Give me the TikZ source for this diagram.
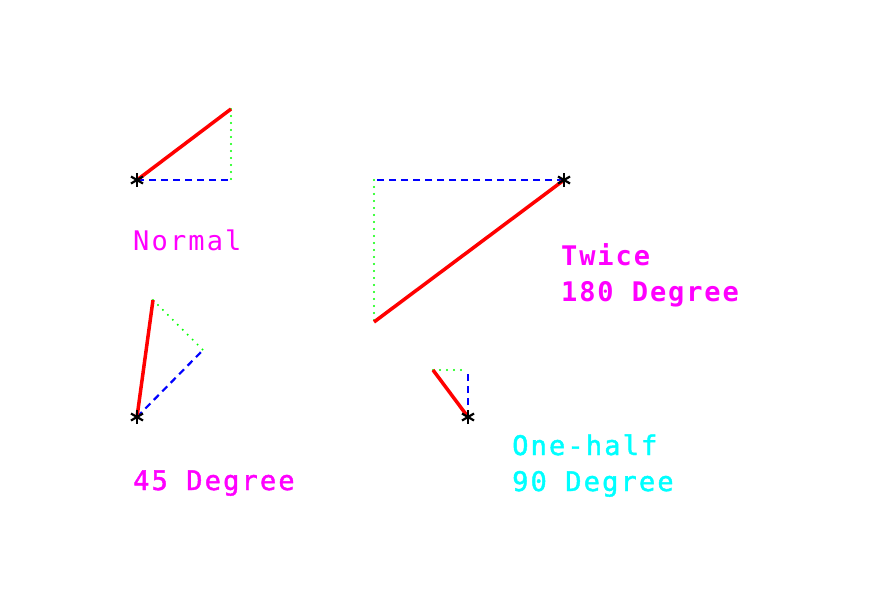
\documentclass[tikz,border=0pt]{standalone}
\usepackage{fontspec}
\newfontfamily\lblthin[LetterSpace=8]{DejaVu Sans Mono}
\newfontfamily\lblfont[LetterSpace=8,FakeBold=1.6]{DejaVu Sans Mono}
\newfontfamily\lblbold[LetterSpace=7]{DejaVu Sans Mono Bold}
\definecolor{pmag}{RGB}{255,0,255}
\definecolor{pcyan}{RGB}{0,255,255}
\definecolor{pgreen}{RGB}{0,255,0}
\tikzset{
  vec/.style={draw=red, line width=3.5pt},
  xleg/.style={draw=blue, line width=2.2pt, dash pattern=on 7pt off 5pt},
  yleg/.style={draw=pgreen, line width=2.2pt, line cap=round, dash pattern=on 0pt off 7pt},
  lblt/.style={anchor=base west, inner sep=0pt, font=\fontsize{27}{36}\lblthin},
  lbl/.style={anchor=base west, inner sep=0pt, font=\fontsize{27}{36}\lblfont},
  lblb/.style={anchor=base west, inner sep=0pt, font=\fontsize{27}{36}\lblbold},
  astk/.style={draw=black, line width=2.2pt}
}
\newcommand{\asterisk}[1]{%
  \draw[astk] ([yshift=-7pt]#1) -- ([yshift=7pt]#1);
  \draw[astk] ([shift={(-6pt,-3.5pt)}]#1) -- ([shift={(6pt,3.5pt)}]#1);
  \draw[astk] ([shift={(-6pt,3.5pt)}]#1) -- ([shift={(6pt,-3.5pt)}]#1);
}
\begin{document}
\begin{tikzpicture}[x=1pt,y=-1pt]
\useasboundingbox[fill=white] (0,0) rectangle (885,600);
% Normal
\coordinate (n0) at (137,180);
\coordinate (n1) at (231,109);
\coordinate (nc) at (231,180);
\draw[xleg] (n0) -- (nc);
\draw[yleg] (n1) -- (nc);
\draw[vec] (n0) -- (n1);
\asterisk{n0}
\node[lblt, text=pmag] (tn) at (133,250) {Normal};
% Twice
\coordinate (t0) at (564,180);
\coordinate (t1) at (374,322);
\coordinate (tc) at (374,180);
\draw[xleg] (t0) -- (tc);
\draw[yleg] (tc) -- (t1);
\draw[vec] (t0) -- (t1);
\asterisk{t0}
\node[lblb, text=pmag] (tt1) at (561,265) {Twice};
\node[lblb, text=pmag] (tt2) at (561,301) {180 Degree};
% 45 Degree
\coordinate (f0) at (137,417);
\coordinate (f1) at (153,300);
\coordinate (fc) at (203,350);
\draw[xleg] (f0) -- (fc);
\draw[yleg] (f1) -- (fc);
\draw[vec] (f0) -- (f1);
\asterisk{f0}
\node[lbl, text=pmag] (tf) at (133,490) {45 Degree};
% One-half
\coordinate (h0) at (468,417);
\coordinate (h1) at (433,370);
\coordinate (hc) at (468,370);
\draw[xleg] (h0) -- (hc);
\draw[yleg] (h1) -- (hc);
\draw[vec] (h0) -- (h1);
\asterisk{h0}
\node[lbl, text=pcyan] (th1) at (512,455) {One-half};
\node[lbl, text=pcyan] (th2) at (512,491) {90 Degree};
\end{tikzpicture}
\end{document}
